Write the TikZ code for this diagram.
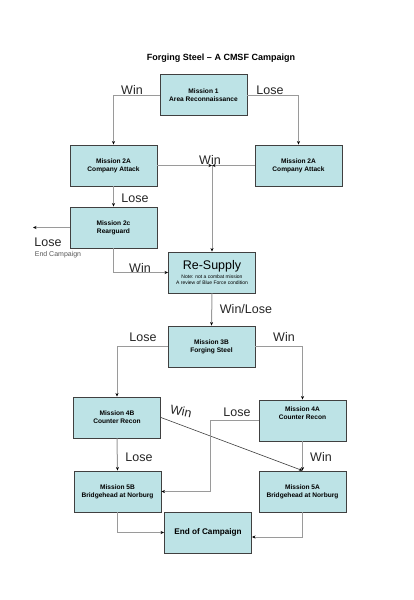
\documentclass[tikz,border=0pt]{standalone}
\usepackage{fontspec}
\setmainfont{Liberation Sans}
\usetikzlibrary{arrows.meta,calc}
\definecolor{boxfill}{HTML}{BDE3E6}
\definecolor{boxline}{HTML}{404040}
\definecolor{conn}{HTML}{9A9A9A}
\tikzset{
  mbox/.style={draw=boxline,line width=0.9pt,fill=boxfill,minimum width=87pt,minimum height=41pt,inner sep=0pt,align=center,font=\fontsize{6.6}{8}\selectfont\bfseries},
  conn/.style={draw=conn,line width=1pt,-{Stealth[length=3.5pt,width=3pt,color=black]}},
  diag/.style={draw=boxline,line width=0.6pt,-{Stealth[length=3.5pt,width=3pt,color=black]}},
  lbl/.style={font=\fontsize{12.5}{14}\selectfont,text=black!85,inner sep=0pt}
}
\begin{document}
\begin{tikzpicture}[x=1pt,y=-1pt]
\useasboundingbox[fill=white] (0,0) rectangle (413,600);
\node[font=\fontsize{9}{11}\selectfont\bfseries] (title) at (221,58) {Forging Steel – A CMSF Campaign};
\node[mbox] (m1) at (203.5,95) {Mission 1\\Area Reconnaissance};
\node[mbox] (m2al) at (113.5,165.5) {Mission 2A\\Company Attack};
\node[mbox] (m2ar) at (298.5,165.5) {Mission 2A\\Company Attack};
\node[mbox] (m2c) at (113.5,227.5) {Mission 2c\\Rearguard};
\node[mbox,font=\fontsize{5}{6}\selectfont] (rs) at (212,272.5) {{\fontsize{12.5}{14}\selectfont Re-Supply}\\[1pt]Note: not a combat mission\\A review of Blue Force condition};
\node[mbox] (m3b) at (211.5,346.5) {Mission 3B\\Forging Steel};
\node[mbox] (m4b) at (117,417.5) {Mission 4B\\Counter Recon};
\node[mbox,text depth=14pt] (m4a) at (302.5,420.5) {Mission 4A\\Counter Recon};
\node[mbox] (m5b) at (117.5,491.5) {Mission 5B\\Bridgehead at Norburg};
\node[mbox] (m5a) at (302.5,491.5) {Mission 5A\\Bridgehead at Norburg};
\node[mbox,font=\fontsize{8.2}{10}\selectfont\bfseries] (eoc) at (208,532.5) {End of Campaign};
\coordinate (j) at (212,165.5);
\coordinate (endl) at (33,227.5);
\coordinate (k4) at (210,420.5);
% connectors
\draw[conn] (m1.west) -| (m2al.north);
\draw[conn] (m1.east) -| (m2ar.north);
\draw[conn] (m2al.east) -- (j);
\draw[conn] (m2ar.west) -- (j);
\draw[conn] (j) -- (rs.north);
\draw[conn] (m2al.south) -- (m2c.north);
\draw[conn] (m2c.west) -- (endl);
\draw[conn] (m2c.south) |- (rs.west);
\draw[conn] (rs.south) -- (m3b.north);
\draw[conn] (m3b.west) -| (m4b.north);
\draw[conn] (m3b.east) -| (m4a.north);
\draw[diag] (m4b.east) -- (m5a.north);
\draw[conn] (m4a.west) -- (k4) |- (m5b.east);
\draw[conn] (m4b.south) -- (m5b.north);
\draw[conn] (m4a.south) -- (m5a.north);
\draw[conn] (m5b.south) |- (eoc.west);
\draw[conn] (m5a.south) |- ([yshift=-4.5pt]eoc.east);
% labels
\node[lbl] (l1) at (132,90) {Win};
\node[lbl] (l2) at (270,90) {Lose};
\node[lbl] (l3) at (210,160) {Win};
\node[lbl] (l4) at (135,198) {Lose};
\node[lbl] (l5) at (48,242) {Lose};
\node[font=\fontsize{7}{8}\selectfont,text=black!65,inner sep=0pt] (l5b) at (58,255) {End Campaign};
\node[lbl] (l6) at (140,268) {Win};
\node[lbl] (l7) at (246,309) {Win/Lose};
\node[lbl] (l8) at (143,337) {Lose};
\node[lbl] (l9) at (284,337) {Win};
\node[lbl,rotate=-12] (l10) at (181,411) {Win};
\node[lbl] (l11) at (237,412) {Lose};
\node[lbl] (l12) at (139,457) {Lose};
\node[lbl] (l13) at (321,457) {Win};
\end{tikzpicture}
\end{document}
